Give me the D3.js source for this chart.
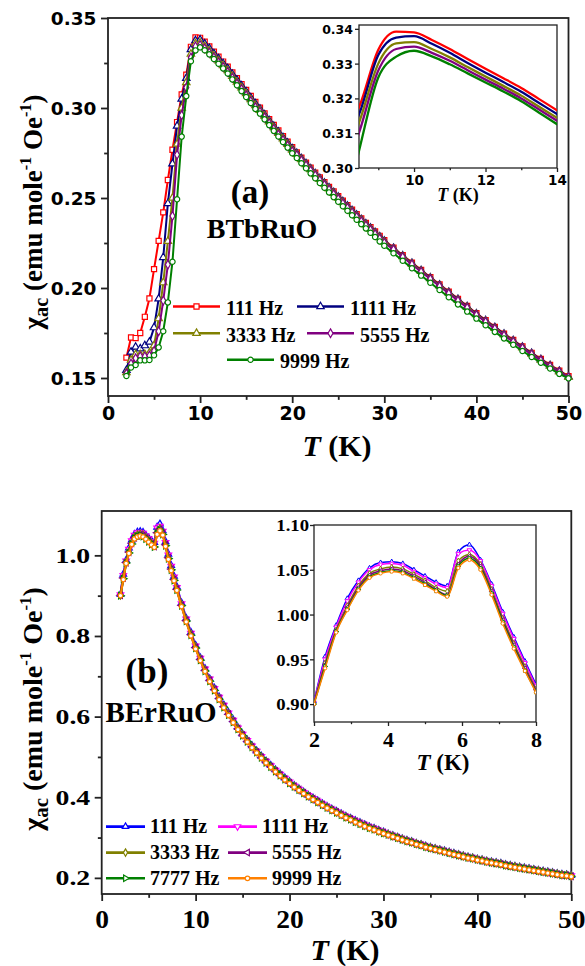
<!DOCTYPE html>
<html lang="en">
<head>
<meta charset="UTF-8">
<title>ac susceptibility</title>
<script src="https://cdn.jsdelivr.net/npm/d3@7"></script>
<style>
  body { margin: 0; background: #fff; }
</style>
</head>
<body>
<svg id="viz"></svg>
<script>
// ---- panel (a): BTbRuO ----
const tempA = [2,2.5,3,3.5,4,4.5,5,5.5,6,6.5,
  7,7.5,8,8.5,9,9.5,10,10.5,11,11.5,
  12,12.5,13,13.5,14,14.5,15,15.5,16,16.5,
  17,17.5,18,18.5,19,19.5,20,20.5,21,21.5,
  22,22.5,23,23.5,24,24.5,25,25.5,26,26.5,
  27,27.5,28,28.5,29,29.5,30,
  31,32,33,34,35,36,37,38,39,40,
  41,42,43,44,45,46,47,48,49,50];

const chiA111 = [0.1613,0.1725,0.1722,0.1750,0.1840,0.1942,0.2105,0.2262,0.2420,0.2600,
  0.2768,0.2922,0.3075,0.3185,0.3340,0.3392,0.3390,0.3368,0.3342,0.3313,
  0.3285,0.3258,0.3230,0.3198,0.3166,0.3133,0.3100,0.3067,0.3034,0.3002,
  0.2970,0.2938,0.2906,0.2875,0.2844,0.2813,0.2782,0.2753,0.2724,0.2696,
  0.2668,0.2641,0.2614,0.2588,0.2562,0.2536,0.2510,0.2485,0.2460,0.2435,
  0.2410,0.2386,0.2362,0.2338,0.2314,0.2290,0.2266,
  0.2224,0.2182,0.2141,0.2100,0.2060,0.2020,0.1980,0.1940,0.1900,0.1860,
  0.1822,0.1784,0.1747,0.1711,0.1675,0.1640,0.1606,0.1573,0.1541,0.1510];

const chiA1111 = [0.1543,0.1645,0.1672,0.1663,0.1680,0.1700,0.1780,0.1940,0.2170,0.2470,
  0.2690,0.2900,0.3050,0.3165,0.3325,0.3375,0.3379,0.3357,0.3331,0.3302,
  0.3274,0.3247,0.3219,0.3187,0.3155,0.3123,0.3090,0.3057,0.3024,0.2994,
  0.2962,0.2930,0.2898,0.2867,0.2836,0.2805,0.2774,0.2748,0.2719,0.2691,
  0.2663,0.2636,0.2609,0.2583,0.2557,0.2531,0.2505,0.2480,0.2455,0.2430,
  0.2405,0.2381,0.2357,0.2333,0.2309,0.2285,0.2261,
  0.2221,0.2179,0.2138,0.2097,0.2057,0.2017,0.1977,0.1937,0.1897,0.1857,
  0.1819,0.1781,0.1744,0.1708,0.1672,0.1637,0.1603,0.1570,0.1538,0.1507];

const chiA3333 = [0.1530,0.1600,0.1630,0.1630,0.1632,0.1640,0.1680,0.1830,0.2030,0.2260,
  0.2500,0.2800,0.3000,0.3142,0.3300,0.3358,0.3362,0.3342,0.3318,0.3290,
  0.3263,0.3236,0.3208,0.3176,0.3144,0.3113,0.3080,0.3047,0.3014,0.2987,
  0.2955,0.2923,0.2891,0.2860,0.2829,0.2798,0.2767,0.2743,0.2714,0.2686,
  0.2658,0.2631,0.2604,0.2578,0.2552,0.2526,0.2500,0.2475,0.2450,0.2425,
  0.2400,0.2376,0.2352,0.2328,0.2304,0.2280,0.2256,
  0.2217,0.2175,0.2134,0.2093,0.2053,0.2013,0.1973,0.1933,0.1893,0.1853,
  0.1815,0.1777,0.1740,0.1704,0.1668,0.1633,0.1600,0.1567,0.1535,0.1505];

const chiA5555 = [0.1525,0.1580,0.1610,0.1620,0.1620,0.1625,0.1650,0.1760,0.1930,0.2130,
  0.2400,0.2740,0.2960,0.3114,0.3280,0.3342,0.3349,0.3331,0.3308,0.3281,
  0.3254,0.3228,0.3200,0.3168,0.3136,0.3105,0.3071,0.3038,0.3005,0.2980,
  0.2948,0.2916,0.2884,0.2853,0.2822,0.2791,0.2760,0.2738,0.2709,0.2681,
  0.2653,0.2626,0.2599,0.2573,0.2547,0.2521,0.2495,0.2470,0.2445,0.2420,
  0.2395,0.2371,0.2347,0.2323,0.2299,0.2275,0.2251,
  0.2214,0.2172,0.2131,0.2090,0.2050,0.2010,0.1970,0.1930,0.1890,0.1850,
  0.1812,0.1774,0.1737,0.1701,0.1666,0.1631,0.1598,0.1565,0.1534,0.1504];

const chiA9999 = [0.1511,0.1558,0.1572,0.1598,0.1598,0.1600,0.1626,0.1670,0.1760,0.1920,
  0.2146,0.2493,0.2841,0.3066,0.3260,0.3320,0.3337,0.3321,0.3298,0.3272,
  0.3246,0.3220,0.3192,0.3159,0.3126,0.3094,0.3061,0.3028,0.2995,0.2969,
  0.2937,0.2905,0.2873,0.2842,0.2811,0.2780,0.2749,0.2722,0.2693,0.2665,
  0.2637,0.2610,0.2583,0.2557,0.2531,0.2505,0.2479,0.2454,0.2429,0.2404,
  0.2379,0.2355,0.2331,0.2307,0.2283,0.2259,0.2235,
  0.2193,0.2151,0.2110,0.2069,0.2029,0.1989,0.1949,0.1909,0.1869,0.1830,
  0.1793,0.1756,0.1720,0.1685,0.1650,0.1617,0.1585,0.1553,0.1523,0.1498];

const freqA = ["111 Hz", "1111 Hz", "3333 Hz", "5555 Hz", "9999 Hz"];
const colorA = ["#ff0000", "#000080", "#808000", "#800080", "#008000"];

// ---- panel (b): BErRuO ----
const tempB = [2.0,2.3,2.6,2.9,3.2,3.5,3.8,4.1,4.4,4.7,5.0,5.3,5.6,5.9,6.2,6.5,6.8,7.1,7.4,7.7,8.0,
  8.5,9,9.5,10,10.5,11,11.5,12,12.5,13,
  13.5,14,14.5,15,15.5,16,16.5,17,17.5,18,
  18.5,19,19.5,20,20.5,21,21.5,22,22.5,23,
  23.5,24,24.5,25,25.5,26,26.5,27,27.5,28,
  28.5,29,29.5,30,30.5,31,31.5,32,32.5,33,
  33.5,34,34.5,35,35.5,36,36.5,37,37.5,38,
  38.5,39,39.5,40,40.5,41,41.5,42,42.5,43,
  43.5,44,44.5,45,45.5,46,46.5,47,47.5,48,
  48.5,49,49.5,50];

const chiB111 = [0.903,0.953,0.988,1.018,1.038,1.052,1.058,1.059,1.057,1.050,1.043,1.036,1.032,1.070,1.078,1.061,1.034,1.003,0.975,0.948,0.922,
  0.882,0.844,0.809,0.777,0.746,0.719,0.694,0.671,0.649,0.629,
  0.610,0.592,0.573,0.557,0.542,0.528,0.515,0.502,0.490,0.479,
  0.468,0.458,0.448,0.439,0.429,0.421,0.413,0.405,0.398,0.391,
  0.384,0.377,0.371,0.365,0.359,0.353,0.348,0.342,0.337,0.332,
  0.327,0.323,0.318,0.314,0.309,0.305,0.301,0.297,0.293,0.290,
  0.286,0.283,0.279,0.276,0.273,0.270,0.267,0.264,0.261,0.258,
  0.255,0.252,0.250,0.247,0.245,0.242,0.240,0.238,0.236,0.233,
  0.231,0.229,0.227,0.225,0.223,0.221,0.219,0.217,0.215,0.213,
  0.211,0.209,0.208,0.206];

const chiB1111 = [0.902,0.950,0.986,1.015,1.036,1.050,1.056,1.057,1.055,1.048,1.041,1.034,1.030,1.068,1.072,1.060,1.032,1.001,0.973,0.946,0.920,
  0.880,0.842,0.807,0.775,0.745,0.718,0.693,0.670,0.648,0.628,
  0.609,0.591,0.572,0.556,0.541,0.527,0.514,0.501,0.489,0.478,
  0.467,0.457,0.447,0.438,0.428,0.420,0.412,0.404,0.397,0.390,
  0.383,0.376,0.370,0.364,0.358,0.352,0.347,0.341,0.336,0.331,
  0.326,0.322,0.317,0.313,0.308,0.304,0.300,0.296,0.292,0.289,
  0.285,0.282,0.278,0.275,0.272,0.269,0.266,0.263,0.260,0.257,
  0.254,0.251,0.249,0.246,0.244,0.241,0.239,0.237,0.235,0.232,
  0.230,0.228,0.226,0.224,0.222,0.220,0.218,0.216,0.214,0.212,
  0.210,0.208,0.207,0.205];

const chiB3333 = [0.901,0.946,0.983,1.010,1.032,1.046,1.051,1.053,1.051,1.045,1.038,1.030,1.026,1.060,1.067,1.056,1.028,0.996,0.968,0.942,0.917,
  0.878,0.840,0.805,0.773,0.743,0.716,0.691,0.668,0.646,0.626,
  0.607,0.589,0.571,0.555,0.540,0.526,0.513,0.500,0.488,0.477,
  0.466,0.456,0.446,0.437,0.427,0.419,0.411,0.403,0.396,0.389,
  0.382,0.375,0.369,0.363,0.357,0.351,0.346,0.340,0.335,0.330,
  0.325,0.321,0.316,0.312,0.308,0.304,0.300,0.296,0.292,0.289,
  0.285,0.282,0.278,0.275,0.272,0.269,0.266,0.263,0.260,0.257,
  0.254,0.251,0.249,0.246,0.244,0.241,0.239,0.237,0.235,0.232,
  0.230,0.228,0.226,0.224,0.222,0.220,0.218,0.216,0.214,0.212,
  0.210,0.208,0.207,0.205];

const chiB5555 = [0.901,0.944,0.982,1.008,1.030,1.044,1.049,1.051,1.049,1.043,1.036,1.028,1.022,1.056,1.065,1.054,1.026,0.994,0.966,0.940,0.916,
  0.876,0.838,0.803,0.771,0.742,0.715,0.690,0.667,0.645,0.625,
  0.606,0.588,0.570,0.554,0.539,0.525,0.512,0.499,0.487,0.476,
  0.465,0.455,0.445,0.436,0.427,0.419,0.411,0.403,0.396,0.389,
  0.382,0.375,0.369,0.363,0.357,0.351,0.346,0.340,0.335,0.330,
  0.325,0.321,0.316,0.312,0.307,0.303,0.299,0.295,0.291,0.288,
  0.284,0.281,0.277,0.274,0.271,0.268,0.265,0.262,0.259,0.256,
  0.253,0.250,0.248,0.245,0.243,0.240,0.238,0.236,0.234,0.231,
  0.229,0.227,0.225,0.223,0.221,0.219,0.217,0.215,0.213,0.211,
  0.209,0.207,0.206,0.204];

const chiB7777 = [0.900,0.942,0.981,1.006,1.028,1.042,1.047,1.049,1.047,1.041,1.034,1.027,1.021,1.054,1.063,1.052,1.024,0.992,0.964,0.938,0.914,
  0.875,0.837,0.802,0.770,0.740,0.713,0.688,0.665,0.643,0.623,
  0.604,0.586,0.569,0.553,0.538,0.524,0.511,0.498,0.486,0.475,
  0.464,0.454,0.444,0.435,0.426,0.418,0.410,0.402,0.395,0.388,
  0.381,0.374,0.368,0.362,0.356,0.350,0.345,0.339,0.334,0.329,
  0.324,0.320,0.315,0.311,0.307,0.303,0.299,0.295,0.291,0.288,
  0.284,0.281,0.277,0.274,0.271,0.268,0.265,0.262,0.259,0.256,
  0.253,0.250,0.248,0.245,0.243,0.240,0.238,0.236,0.234,0.231,
  0.229,0.227,0.225,0.223,0.221,0.219,0.217,0.215,0.213,0.211,
  0.209,0.207,0.206,0.204];

const chiB9999 = [0.900,0.940,0.980,1.005,1.027,1.041,1.046,1.048,1.046,1.040,1.033,1.026,1.020,1.052,1.061,1.050,1.022,0.990,0.962,0.937,0.913,
  0.873,0.835,0.800,0.768,0.739,0.712,0.687,0.664,0.642,0.622,
  0.603,0.585,0.568,0.552,0.537,0.523,0.510,0.497,0.485,0.474,
  0.463,0.453,0.443,0.434,0.425,0.417,0.409,0.401,0.394,0.387,
  0.380,0.373,0.367,0.361,0.355,0.349,0.344,0.338,0.333,0.328,
  0.323,0.319,0.314,0.310,0.306,0.302,0.298,0.294,0.290,0.287,
  0.283,0.280,0.276,0.273,0.270,0.267,0.264,0.261,0.258,0.255,
  0.252,0.249,0.247,0.244,0.242,0.239,0.237,0.235,0.233,0.230,
  0.228,0.226,0.224,0.222,0.220,0.218,0.216,0.214,0.212,0.210,
  0.208,0.206,0.205,0.203];

const freqB = ["111 Hz", "1111 Hz", "3333 Hz", "5555 Hz", "7777 Hz", "9999 Hz"];
const colorB = ["#0000ff", "#ff00ff", "#808000", "#800080", "#008000", "#ff8000"];

// tick values
const xTicksMain = [0, 10, 20, 30, 40, 50], xMinorMain = [5, 15, 25, 35, 45];
const yTicksA = [0.15, 0.20, 0.25, 0.30, 0.35], yMinorA = [0.175, 0.225, 0.275, 0.325];
const xTicksAi = [10, 12, 14], xMinorAi = [9, 11, 13];
const yTicksAi = [0.30, 0.31, 0.32, 0.33, 0.34];
const yTicksB = [0.2, 0.4, 0.6, 0.8, 1.0], yMinorB = [0.3, 0.5, 0.7, 0.9];
const xTicksBi = [2, 4, 6, 8], xMinorBi = [3, 5, 7];
const yTicksBi = [0.90, 0.95, 1.00, 1.05, 1.10];

const serif = "'Liberation Serif', 'Times New Roman', serif";
const sans = "'DejaVu Sans', sans-serif";
const ink = "#222";

const svg = d3.select("#viz").attr("width", 585).attr("height", 966);

const symA = [
  {type: d3.symbolSquare, size: 26, rot: 0},
  {type: d3.symbolTriangle, size: 24, rot: 0},
  {type: d3.symbolTriangle, size: 24, rot: 0},
  {type: d3.symbolDiamond, size: 22, rot: 0},
  {type: d3.symbolCircle, size: 22, rot: 0}
];
const symB = [
  {type: d3.symbolTriangle, size: 18, rot: 0},
  {type: d3.symbolTriangle, size: 18, rot: 180},
  {type: d3.symbolDiamond, size: 16, rot: 0},
  {type: d3.symbolTriangle, size: 18, rot: -90},
  {type: d3.symbolTriangle, size: 18, rot: 90},
  {type: d3.symbolCircle, size: 16, rot: 0}
];

function stretch(sel, k) {
  sel.each(function() {
    const w = this.getComputedTextLength();
    d3.select(this).attr("textLength", w * k).attr("lengthAdjust", "spacingAndGlyphs");
  });
}

function axes(g, x, y, o) {
  const [x0, x1] = x.range(), [y0, y1] = y.range();
  g.append("rect")
    .attr("x", x0).attr("y", y1).attr("width", x1 - x0).attr("height", y0 - y1)
    .attr("fill", "#fff");
  const ax = g.append("g").attr("transform", `translate(0,${y0})`)
    .call(d3.axisBottom(x).tickValues(o.xMajor).tickSize(o.tick).tickFormat(o.xFmt));
  g.append("g").attr("transform", `translate(0,${y0})`)
    .call(d3.axisBottom(x).tickValues(o.xMinor).tickSize(o.tick * 0.55).tickFormat(""));
  const ay = g.append("g").attr("transform", `translate(${x0},0)`)
    .call(d3.axisLeft(y).tickValues(o.yMajor).tickSize(o.tick).tickFormat(o.yFmt));
  if (o.yMinor) {
    g.append("g").attr("transform", `translate(${x0},0)`)
      .call(d3.axisLeft(y).tickValues(o.yMinor).tickSize(o.tick * 0.55).tickFormat(""));
  }
  g.selectAll(".domain").remove();
  g.selectAll(".tick line").attr("stroke", ink).attr("stroke-width", o.sw);

  ax.selectAll("text")
    .attr("y", o.xLabelY).attr("dy", null)
    .attr("font-family", o.xFont).attr("font-size", o.xSize).attr("font-weight", "bold")
    .attr("fill", "#000");
  ay.selectAll("text")
    .attr("x", o.yLabelX).attr("y", o.yLabelDy).attr("dy", null)
    .attr("font-family", o.yFont).attr("font-size", o.ySize).attr("font-weight", "bold")
    .attr("fill", "#000");

  g.append("rect")
    .attr("x", x0).attr("y", y1).attr("width", x1 - x0).attr("height", y0 - y1)
    .attr("fill", "none").attr("stroke", ink).attr("stroke-width", o.sw);
  return {ax, ay};
}

function drawSeries(g, x, y, temps, vals, color, sym, o) {
  const pts = temps.map((t, i) => ({t: t, v: vals[i]}))
    .filter(d => d.t >= o.tMin && d.t <= o.tMax);
  g.append("path")
    .datum(pts)
    .attr("fill", "none")
    .attr("stroke", color)
    .attr("stroke-width", o.lw)
    .attr("stroke-linejoin", "round")
    .attr("d", d3.line().x(d => x(d.t)).y(d => y(d.v)).curve(o.curve));
  if (o.markers) {
    g.selectAll(null)
      .data(pts)
      .join("path")
        .attr("transform", d => `translate(${x(d.t)},${y(d.v)}) rotate(${sym.rot})`)
        .attr("d", d3.symbol().type(sym.type).size(o.msize || sym.size))
        .attr("fill", "#fff")
        .attr("stroke", color)
        .attr("stroke-width", o.mw);
  }
}

function yTitle(g, x, y, size) {
  const t = g.append("text")
    .attr("transform", `translate(${x},${y}) rotate(-90)`)
    .attr("text-anchor", "middle")
    .attr("font-family", serif).attr("font-weight", "bold").attr("font-size", size);
  t.append("tspan").text("χ");
  t.append("tspan").attr("font-size", size * 0.75).attr("dy", size * 0.22).text("ac");
  t.append("tspan").attr("dy", -size * 0.22).text(" (emu mole");
  t.append("tspan").attr("font-size", size * 0.6).attr("dy", -size * 0.4).text("-1");
  t.append("tspan").attr("dy", size * 0.4).text(" Oe");
  t.append("tspan").attr("font-size", size * 0.6).attr("dy", -size * 0.4).text("-1");
  t.append("tspan").attr("dy", size * 0.4).text(")");
}

function xTitle(g, x, y, size) {
  const t = g.append("text")
    .attr("x", x).attr("y", y)
    .attr("text-anchor", "middle")
    .attr("font-family", serif).attr("font-weight", "bold").attr("font-size", size);
  t.append("tspan").attr("font-style", "italic").text("T");
  t.append("tspan").text(" (K)");
}

function legend(g, names, colors, syms, slots, rows, o) {
  names.forEach((name, i) => {
    const [x0, r] = slots[i];
    const yb = rows[r];
    const ly = yb - o.lift;
    g.append("line")
      .attr("x1", x0).attr("x2", x0 + o.len).attr("y1", ly).attr("y2", ly)
      .attr("stroke", colors[i]).attr("stroke-width", o.lw);
    g.append("path")
      .attr("transform", `translate(${x0 + o.len / 2},${ly}) rotate(${syms[i].rot})`)
      .attr("d", d3.symbol().type(syms[i].type).size(syms[i].size))
      .attr("fill", "#fff").attr("stroke", colors[i]).attr("stroke-width", 1.2);
    g.append("text")
      .attr("x", x0 + o.len + o.gap).attr("y", yb)
      .attr("font-family", serif).attr("font-weight", "bold").attr("font-size", o.size)
      .text(name);
  });
}

// ================= panel (a) =================
const gA = svg.append("g");
const xA = d3.scaleLinear().domain([0, 50]).range([108, 568.5]);
const yA = d3.scaleLinear().domain([0.14, 0.35]).range([396, 18]);

axes(gA, xA, yA, {
  xMajor: xTicksMain, xMinor: xMinorMain, yMajor: yTicksA, yMinor: yMinorA,
  xFmt: d3.format("d"), yFmt: d3.format(".2f"), tick: 7, sw: 1.8,
  xLabelY: 23.5, xFont: sans, xSize: 19,
  yLabelX: -11.5, yLabelDy: 6.7, yFont: sans, ySize: 18.5
});

const seriesA = [chiA111, chiA1111, chiA3333, chiA5555, chiA9999];
seriesA.forEach((vals, i) => {
  drawSeries(gA, xA, yA, tempA, vals, colorA[i], symA[i],
    {tMin: 0, tMax: 50, lw: 2, curve: d3.curveLinear, markers: true, mw: 1.2});
});

yTitle(gA, 42, 212, 27);
xTitle(gA, 337, 456, 30);

gA.append("text").attr("x", 250).attr("y", 203).attr("text-anchor", "middle")
  .attr("font-family", serif).attr("font-weight", "bold").attr("font-size", 33)
  .text("(a)");
gA.append("text").attr("x", 262).attr("y", 238).attr("text-anchor", "middle")
  .attr("font-family", serif).attr("font-weight", "bold").attr("font-size", 28)
  .text("BTbRuO");

legend(gA, freqA, colorA, symA,
  [[173, 0], [297, 0], [173, 1], [307, 1], [227, 2]],
  [315, 341.7, 368.3],
  {len: 47, gap: 6, lift: 8.5, lw: 2.6, size: 20});

// inset (a)
const gAi = svg.append("g");
const xAi = d3.scaleLinear().domain([8.46, 14]).range([359, 557]);
const yAi = d3.scaleLinear().domain([0.30, 0.3411]).range([168, 25]);
axes(gAi, xAi, yAi, {
  xMajor: xTicksAi, xMinor: xMinorAi, yMajor: yTicksAi, yMinor: null,
  xFmt: d3.format("d"), yFmt: d3.format(".2f"), tick: 4, sw: 1.3,
  xLabelY: 17, xFont: sans, xSize: 13.5,
  yLabelX: -6, yLabelDy: 4.4, yFont: sans, ySize: 12.5
});
gAi.append("clipPath").attr("id", "clipAi").append("rect")
  .attr("x", 359).attr("y", 25).attr("width", 198).attr("height", 143);
const gAiData = gAi.append("g").attr("clip-path", "url(#clipAi)");
seriesA.forEach((vals, i) => {
  drawSeries(gAiData, xAi, yAi, tempA, vals, colorA[i], symA[i],
    {tMin: 8, tMax: 14.5, lw: 2.3, curve: d3.curveMonotoneX, markers: false});
});
xTitle(gAi, 458, 201, 18);

// ================= panel (b) =================
const gB = svg.append("g");
const xB = d3.scaleLinear().domain([0, 50]).range([101.7, 571.3]);
const yB = d3.scaleLinear().domain([0.16, 1.11]).range([894, 511]);

const axB = axes(gB, xB, yB, {
  xMajor: xTicksMain, xMinor: xMinorMain, yMajor: yTicksB, yMinor: yMinorB,
  xFmt: d3.format("d"), yFmt: d3.format(".1f"), tick: 7, sw: 1.8,
  xLabelY: 34, xFont: serif, xSize: 25,
  yLabelX: -11.5, yLabelDy: 7, yFont: serif, ySize: 21
});
stretch(axB.ay.selectAll("text"), 1.32);
stretch(axB.ax.selectAll("text"), 1.1);

const seriesB = [chiB111, chiB1111, chiB3333, chiB5555, chiB7777, chiB9999];
seriesB.forEach((vals, i) => {
  drawSeries(gB, xB, yB, tempB, vals, colorB[i], symB[i],
    {tMin: 0, tMax: 50, lw: 2.2, curve: d3.curveLinear, markers: true, mw: 1.3});
});

yTitle(gB, 42, 709, 28);
xTitle(gB, 345, 960, 30);

gB.append("text").attr("x", 147).attr("y", 683).attr("text-anchor", "middle")
  .attr("font-family", serif).attr("font-weight", "bold").attr("font-size", 35)
  .text("(b)");
gB.append("text").attr("x", 161).attr("y", 722).attr("text-anchor", "middle")
  .attr("font-family", serif).attr("font-weight", "bold").attr("font-size", 29)
  .text("BErRuO");

legend(gB, freqB, colorB, symB,
  [[106, 0], [218, 0], [106, 1], [228, 1], [106, 2], [228, 2]],
  [833.3, 859.3, 885],
  {len: 39, gap: 5, lift: 6.7, lw: 2.6, size: 20});

// inset (b)
const gBi = svg.append("g");
const xBi = d3.scaleLinear().domain([2, 8]).range([314, 536]);
const yBi = d3.scaleLinear().domain([0.88, 1.10]).range([722, 525]);
const axBi = axes(gBi, xBi, yBi, {
  xMajor: xTicksBi, xMinor: xMinorBi, yMajor: yTicksBi, yMinor: null,
  xFmt: d3.format("d"), yFmt: d3.format(".2f"), tick: 4, sw: 1.3,
  xLabelY: 24.7, xFont: serif, xSize: 22,
  yLabelX: -5, yLabelDy: 5.8, yFont: serif, ySize: 17
});
stretch(axBi.ay.selectAll("text"), 1.1);
gBi.append("clipPath").attr("id", "clipBi").append("rect")
  .attr("x", 314).attr("y", 525).attr("width", 222).attr("height", 197);
const gBiData = gBi.append("g").attr("clip-path", "url(#clipBi)");
seriesB.forEach((vals, i) => {
  drawSeries(gBiData, xBi, yBi, tempB, vals, colorB[i], symB[i],
    {tMin: 2, tMax: 8, lw: 1.5, curve: d3.curveMonotoneX, markers: true, mw: 1, msize: 9});
});
xTitle(gBi, 443, 770, 23);
</script>
</body>
</html>
